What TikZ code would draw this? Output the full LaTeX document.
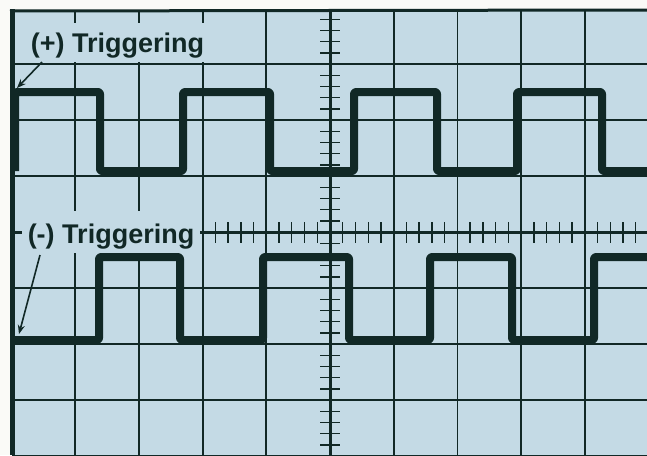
\documentclass[tikz,border=0pt]{standalone}
\usepackage{fontspec}
\setmainfont{Liberation Sans}
\usetikzlibrary{arrows.meta}
\definecolor{scr}{HTML}{C4DAE5}
\definecolor{ink}{HTML}{112826}
\definecolor{paper}{HTML}{FAFAF7}
\begin{document}
\begin{tikzpicture}[x=1pt,y=-1pt,
  grid/.style={draw=ink,line width=1.8pt},
  axis/.style={draw=ink,line width=3pt},
  tick/.style={draw=ink,line width=1.4pt},
  wave/.style={draw=ink,line width=8pt,line join=round,rounded corners=2pt},
  lbl/.style={fill=scr,inner sep=0pt,text=ink,font=\fontsize{27}{30}\selectfont\bfseries},
  pointer/.style={draw=ink,line width=1.6pt,-{Stealth[length=9pt,width=7pt]}}]
\useasboundingbox (0,0) rectangle (647,455);
\fill[paper] (0,0) rectangle (647,455);
\fill[scr] (12,11) rectangle (647,455);
% grid
\foreach \k in {-4,...,4}{
  \draw[grid] ({330+63.7*\k},11) -- ({330+63.7*\k},455);
}
\foreach \k in {-3,...,4}{
  \draw[grid] (12,{232+56*\k}) -- (647,{232+56*\k});
}
\draw[axis] (330,11) -- (330,455);
\draw[axis] (12,232) -- (647,232);
% ticks
\foreach \m in {-24,...,25}{
  \pgfmathtruncatemacro\r{mod(abs(\m),5)}
  \ifnum\r=0\else\draw[tick] ({330+12.74*\m},222) -- ++(0,21);\fi
}
\foreach \m in {-19,...,20}{
  \pgfmathtruncatemacro\r{mod(abs(\m),5)}
  \ifnum\r=0\else\draw[tick] (320,{232+11.2*\m}) -- ++(20,0);\fi
}
% borders
\draw[ink,line width=5pt] (12,455) -- (12,9);
\draw[ink,line width=3pt] (10,11) -- (647,10);
% labels
\node[lbl,minimum width=185pt,minimum height=39pt,text height=19pt,text depth=0pt] (plus) at (117.5,42.5) {(+) Triggering};
\node[lbl,minimum width=178pt,minimum height=42pt,text height=22pt,text depth=0pt] (minus) at (111,232) {(-) Triggering};
% waves
\draw[wave] (15,171) -- (15,92) -- (100,92) -- (100,171) -- (183,171) -- (183,92) -- (270,92) -- (270,171)
  -- (354,171) -- (354,92) -- (437,92) -- (437,171) -- (517,171) -- (517,92) -- (602,92) -- (602,171) -- (650,171);
\draw[wave] (14,340) -- (99,340) -- (99,257) -- (180,257) -- (180,340) -- (263,340) -- (263,257) -- (349,257)
  -- (349,340) -- (430,340) -- (430,257) -- (512,257) -- (512,340) -- (594,340) -- (594,257) -- (650,257);
% pointers
\coordinate (pa) at (42,62);
\coordinate (pb) at (17,88);
\coordinate (ma) at (40,255);
\coordinate (mb) at (19,334);
\draw[pointer] (pa) -- (pb);
\draw[pointer] (ma) -- (mb);
\end{tikzpicture}
\end{document}
